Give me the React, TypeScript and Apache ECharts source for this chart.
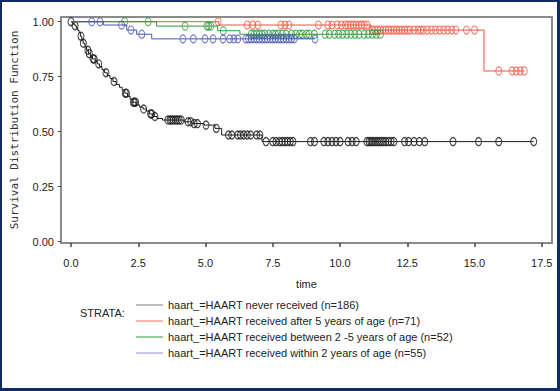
import React, { useEffect, useRef } from "react";
import * as echarts from "echarts";

const strataNames = [
  "haart_=HAART never received (n=186)",
  "haart_=HAART received after 5 years of age (n=71)",
  "haart_=HAART received between 2 -5 years of age (n=52)",
  "haart_=HAART received within 2 years of age (n=55)",
];
const strataColors = ["#1c1c1c", "#f0503c", "#2f9a3a", "#4652b4"];
const legendLineColors = ["#7a7a7a", "#f06a5a", "#2f9a3a", "#8a8ad8"];

const xTicks = [0, 2.5, 5, 7.5, 10, 12.5, 15, 17.5];
const yTicks = [0, 0.25, 0.5, 0.75, 1];

// Kaplan-Meier steps: [event time, survival after event]
const neverEvents: [number, number][] = [
  [0.05, 0.995], [0.1, 0.989], [0.15, 0.982], [0.2, 0.972], [0.25, 0.961],
  [0.3, 0.95], [0.35, 0.934], [0.4, 0.918], [0.45, 0.902], [0.52, 0.886],
  [0.58, 0.87], [0.65, 0.855], [0.72, 0.843], [0.8, 0.831], [0.9, 0.82],
  [0.98, 0.808], [1.06, 0.796], [1.15, 0.782], [1.25, 0.768], [1.35, 0.755],
  [1.45, 0.742], [1.56, 0.728], [1.68, 0.715], [1.8, 0.702], [1.9, 0.689],
  [2.0, 0.675], [2.1, 0.661], [2.2, 0.647], [2.3, 0.634], [2.42, 0.622],
  [2.55, 0.612], [2.68, 0.603], [2.8, 0.594], [2.92, 0.581], [3.05, 0.569],
  [3.2, 0.56], [3.4, 0.553], [4.2, 0.545], [4.5, 0.537], [4.95, 0.53],
  [5.35, 0.515], [5.6, 0.485], [7.1, 0.455],
];
const neverCensor = [
  0, 0.15, 0.37, 0.46, 0.63, 0.68, 0.82, 0.86, 1.03, 1.3, 1.6, 2.02, 2.06, 2.32,
  2.36, 2.4, 2.7, 2.96, 3.0, 3.12, 3.6, 3.68, 3.74, 3.8, 3.88, 3.95, 4.02, 4.1,
  4.35, 4.45, 4.58, 4.7, 5.02, 5.4, 5.85, 5.98, 6.2, 6.3, 6.42, 6.55, 6.68, 6.9,
  7.02, 7.25, 7.5, 7.62, 7.75, 7.85, 7.95, 8.05, 8.15, 8.25, 8.9, 9.05, 9.4,
  9.55, 9.7, 9.85, 10.0, 10.3, 10.45, 10.6, 11.0, 11.08, 11.15, 11.22, 11.3,
  11.38, 11.46, 11.54, 11.62, 11.7, 11.8, 11.9, 12.0, 12.4, 12.55, 12.75, 12.95,
  13.15, 14.2, 15.15, 15.9, 17.2,
];
const neverEnd = 17.2;

const afterFiveEvents: [number, number][] = [
  [5.5, 0.985], [11.15, 0.962], [15.35, 0.776],
];
const afterFiveCensor = [
  5.47, 6.55, 6.75, 6.95, 7.8, 7.95, 8.1, 9.2, 9.55, 9.7, 9.9, 10.05, 10.2, 10.3,
  10.4, 10.5, 10.6, 10.7, 10.8, 10.9, 11.0, 11.2, 11.3, 11.4, 11.5, 11.6, 11.7,
  11.8, 11.9, 12.0, 12.1, 12.2, 12.3, 12.4, 12.5, 12.6, 12.75, 12.9, 13.0, 13.1,
  13.25, 13.4, 13.55, 13.7, 13.85, 14.0, 14.15, 14.3, 14.7, 15.0, 15.9, 16.4,
  16.55, 16.7, 16.85,
];
const afterFiveEnd = 16.85;

const twoToFiveEvents: [number, number][] = [
  [3.18, 0.98], [5.45, 0.959], [6.28, 0.943],
];
const twoToFiveCensor = [
  2.0, 2.87, 4.24, 5.05, 5.12, 5.2, 5.66, 6.7, 6.8, 6.9, 7.0, 7.1, 7.2, 7.35, 7.5,
  7.6, 7.7, 7.85, 8.0, 8.2, 8.35, 8.5, 8.6, 8.75, 8.85, 9.05, 9.45, 9.6, 9.8,
  9.95, 10.1, 10.25, 10.4, 10.55, 10.7, 10.9, 11.05, 11.2, 11.35, 11.5,
];
const twoToFiveEnd = 11.5;

const withinTwoEvents: [number, number][] = [
  [1.2, 0.985], [2.07, 0.962], [2.44, 0.943], [3.0, 0.922],
];
const withinTwoCensor = [
  0.77, 1.08, 1.88, 2.23, 2.63, 4.16, 4.55, 4.98, 5.28, 5.65, 5.9, 6.05, 6.2,
  6.5, 6.6, 6.7, 6.8, 6.9, 7.0, 7.1, 7.2, 7.3, 7.4, 7.5, 7.6, 7.7, 7.8, 7.9, 8.0,
  8.1, 8.2, 8.3, 9.07,
];
const withinTwoEnd = 9.07;

const strataEvents = [neverEvents, afterFiveEvents, twoToFiveEvents, withinTwoEvents];
const strataCensor = [neverCensor, afterFiveCensor, twoToFiveCensor, withinTwoCensor];
const strataEnd = [neverEnd, afterFiveEnd, twoToFiveEnd, withinTwoEnd];

function survivalAt(events: [number, number][], t: number): number {
  let s = 1;
  for (const [et, es] of events) {
    if (et <= t) s = es;
    else break;
  }
  return s;
}

const FONT = "'Liberation Sans', Arial, sans-serif";

export default function App() {
  const ref = useRef<HTMLDivElement>(null);

  useEffect(() => {
    if (!ref.current) return;
    const chart = echarts.init(ref.current, null, { renderer: "svg" });

    const series: any[] = [];
    strataNames.forEach((name, i) => {
      const ev = strataEvents[i];
      const lastS = ev.length ? ev[ev.length - 1][1] : 1;
      series.push({
        type: "line",
        name,
        step: "end",
        data: [[0, 1], ...ev, [strataEnd[i], lastS]],
        symbol: "none",
        showSymbol: false,
        lineStyle: { color: strataColors[i], width: 1 },
        itemStyle: { color: strataColors[i] },
        z: 2 + i,
        silent: true,
      });
      series.push({
        type: "scatter",
        name: name + " censored",
        data: strataCensor[i].map((t) => [t, survivalAt(ev, t)]),
        symbol: "circle",
        symbolSize: [6, 8],
        itemStyle: {
          color: "rgba(255,255,255,0)",
          borderColor: strataColors[i],
          borderWidth: i === 0 ? 1.2 : 1,
        },
        z: 2 + i,
        silent: true,
      });
    });

    chart.setOption({
      animation: false,
      backgroundColor: "#ffffff",
      textStyle: { fontFamily: FONT },
      grid: {
        left: 61,
        top: 17,
        width: 491,
        height: 226,
        show: true,
        borderColor: "#8a8a8a",
        borderWidth: 2,
        backgroundColor: "transparent",
        containLabel: false,
        outerBoundsMode: "none",
      },
      xAxis: {
        type: "value",
        min: -0.372,
        max: 17.88,
        name: "time",
        nameLocation: "middle",
        nameGap: 35,
        nameTextStyle: { fontSize: 11, color: "#222", fontFamily: FONT },
        axisLine: { show: true, onZero: false, lineStyle: { color: "#8a8a8a", width: 2 } },
        axisTick: {
          show: true,
          customValues: xTicks,
          length: 4,
          lineStyle: { color: "#444", width: 1.5 },
        },
        axisLabel: {
          customValues: xTicks,
          formatter: (v: number) => v.toFixed(1),
          fontSize: 11,
          color: "#222",
          margin: 14,
          fontFamily: FONT,
        },
        splitLine: { show: false },
      },
      yAxis: {
        type: "value",
        min: -0.0059,
        max: 1.0214,
        name: "Survival Distribution Function",
        nameLocation: "middle",
        nameGap: 41,
        nameTextStyle: {
          fontSize: 11,
          color: "#333",
          fontFamily: "'DejaVu Sans Mono', 'Liberation Mono', monospace",
        },
        axisLine: { show: true, onZero: false, lineStyle: { color: "#8a8a8a", width: 2 } },
        axisTick: {
          show: true,
          customValues: yTicks,
          length: 3,
          lineStyle: { color: "#444", width: 1 },
        },
        axisLabel: {
          customValues: yTicks,
          formatter: (v: number) => v.toFixed(2),
          fontSize: 11,
          color: "#222",
          margin: 7,
          fontFamily: FONT,
        },
        splitLine: { show: false },
      },
      legend: {
        orient: "vertical",
        left: 131,
        top: 292,
        itemWidth: 27,
        itemHeight: 1,
        itemGap: 0,
        icon: "rect",
        selectedMode: false,
        data: strataNames.map((n, i) => ({
          name: n,
          itemStyle: { color: legendLineColors[i] },
        })),
        textStyle: { fontSize: 11, lineHeight: 16, color: "#222", fontFamily: FONT },
      },
      graphic: [
        {
          type: "text",
          left: 80,
          top: 307,
          style: { text: "STRATA:", fontSize: 11, fill: "#222", fontFamily: FONT },
        },
      ],
      series,
    });

    return () => chart.dispose();
  }, []);

  return (
    <div style={{ position: "fixed", left: 0, top: 0, width: 560, height: 391, background: "#fff" }}>
      <div ref={ref} style={{ width: 560, height: 391 }} />
      <div
        style={{
          position: "absolute",
          left: 0,
          top: 0,
          width: 560,
          height: 391,
          boxSizing: "border-box",
          borderStyle: "solid",
          borderColor: "#102c60",
          borderWidth: "2px 3px 3px 2px",
          pointerEvents: "none",
        }}
      />
    </div>
  );
}
